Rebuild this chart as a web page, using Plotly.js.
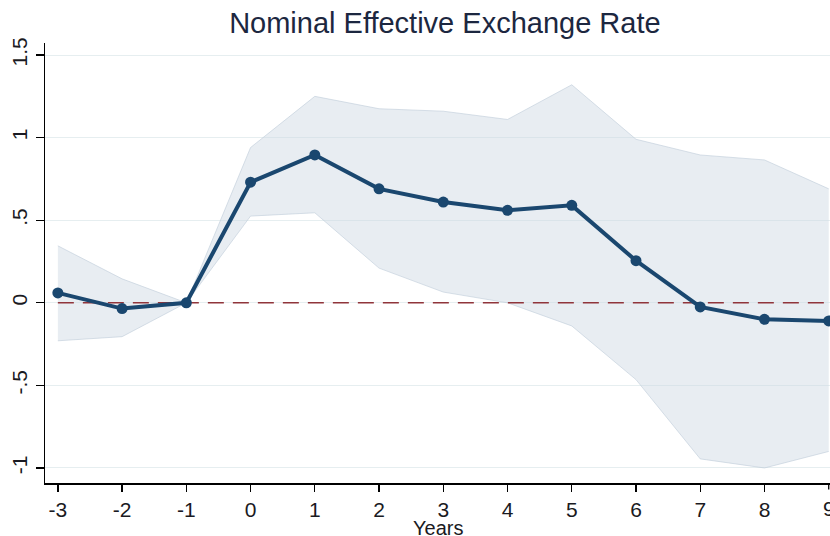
<!DOCTYPE html>
<html>
<head>
<meta charset="utf-8">
<script src="https://cdn.plot.ly/plotly-3.0.1.min.js"></script>
<style>
  html, body { margin: 0; padding: 0; background: #ffffff; }
  #chart { width: 830px; height: 536px; }
</style>
</head>
<body>
<div id="chart"></div>
<script>
// Impulse response of the nominal effective exchange rate, years -3..9
const years = [-3, -2, -1, 0, 1, 2, 3, 4, 5, 6, 7, 8, 9];
const estimate = [0.06, -0.035, 0, 0.73, 0.895, 0.69, 0.61, 0.56, 0.59, 0.255, -0.025, -0.10, -0.11];
const upperBand = [0.345, 0.145, 0, 0.94, 1.25, 1.175, 1.16, 1.11, 1.32, 0.99, 0.895, 0.865, 0.69];
const lowerBand = [-0.23, -0.205, 0, 0.525, 0.545, 0.21, 0.065, 0.0, -0.14, -0.465, -0.945, -1.0, -0.9];
const baseline = years.map(() => 0);

const yTickVals = [-1, -0.5, 0, 0.5, 1, 1.5];
const yTickText = ['-1', '-.5', '0', '.5', '1', '1.5'];
const xTickVals = years;
const xTickText = years.map(String);

const sans = '"Liberation Sans", Arial, sans-serif';
const textColor = '#1a1a22';

const traces = [
  {
    x: years, y: lowerBand, type: 'scatter', mode: 'lines',
    line: { color: 'rgba(190,204,216,0.6)', width: 1 },
    hoverinfo: 'skip', showlegend: false
  },
  {
    x: years, y: upperBand, type: 'scatter', mode: 'lines',
    fill: 'tonexty', fillcolor: 'rgba(205,215,226,0.45)',
    line: { color: 'rgba(190,204,216,0.6)', width: 1 },
    hoverinfo: 'skip', showlegend: false
  },
  {
    x: years, y: baseline, type: 'scatter', mode: 'lines',
    line: { color: '#90353b', width: 1.6, dash: '16px,9px' },
    hoverinfo: 'skip', showlegend: false
  },
  {
    x: years, y: estimate, type: 'scatter', mode: 'lines+markers',
    line: { color: '#1a476f', width: 4 },
    marker: { color: '#1a476f', size: 11 },
    showlegend: false
  }
];

// the last year's label sits on the right edge of the page; draw it as an annotation so it is kept
const lastYear = years[years.length - 1];

const layout = {
  width: 830, height: 536,
  paper_bgcolor: '#ffffff', plot_bgcolor: '#ffffff',
  margin: { l: 45, r: 0, t: 43, b: 53 },
  title: {
    text: 'Nominal Effective Exchange Rate',
    font: { family: sans, size: 29, color: '#1c2740' },
    x: 0.536, xanchor: 'center', y: 0.958, yanchor: 'middle'
  },
  xaxis: {
    range: [-3.2, 9.02],
    tickvals: xTickVals.slice(0, -1), ticktext: xTickText.slice(0, -1),
    ticks: 'outside', ticklen: 7, tickwidth: 1.3, tickcolor: '#000',
    showline: true, linecolor: '#000', linewidth: 1.5,
    showgrid: false, zeroline: false,
    tickfont: { family: sans, size: 21, color: textColor }
  },
  yaxis: {
    range: [-1.091, 1.573],
    tickvals: yTickVals, ticktext: yTickText,
    tickangle: -90,
    ticks: 'outside', ticklen: 8, tickwidth: 1.3, tickcolor: '#000',
    showline: true, linecolor: '#000', linewidth: 1.5,
    showgrid: true, gridcolor: '#e6eef0', gridwidth: 1,
    zeroline: false,
    tickfont: { family: sans, size: 21, color: textColor }
  },
  annotations: [
    { x: lastYear, xref: 'x', y: 0, yref: 'paper', yshift: -25, yanchor: 'middle',
      text: String(lastYear), showarrow: false,
      font: { family: sans, size: 21, color: textColor } },
    { x: lastYear, xref: 'x', y: 0, yref: 'paper', ayref: 'pixel',
      showarrow: true, arrowhead: 0, arrowwidth: 1.3, arrowcolor: '#000', ax: 0, ay: 8,
      text: '' },
    // axis title placed below the tick labels
    { x: 0.5, xref: 'paper', y: 0, yref: 'paper', yshift: -45, yanchor: 'middle',
      text: 'Years', showarrow: false,
      font: { family: sans, size: 20, color: textColor } }
  ]
};

Plotly.newPlot('chart', traces, layout, { staticPlot: true, displayModeBar: false });
</script>
</body>
</html>
